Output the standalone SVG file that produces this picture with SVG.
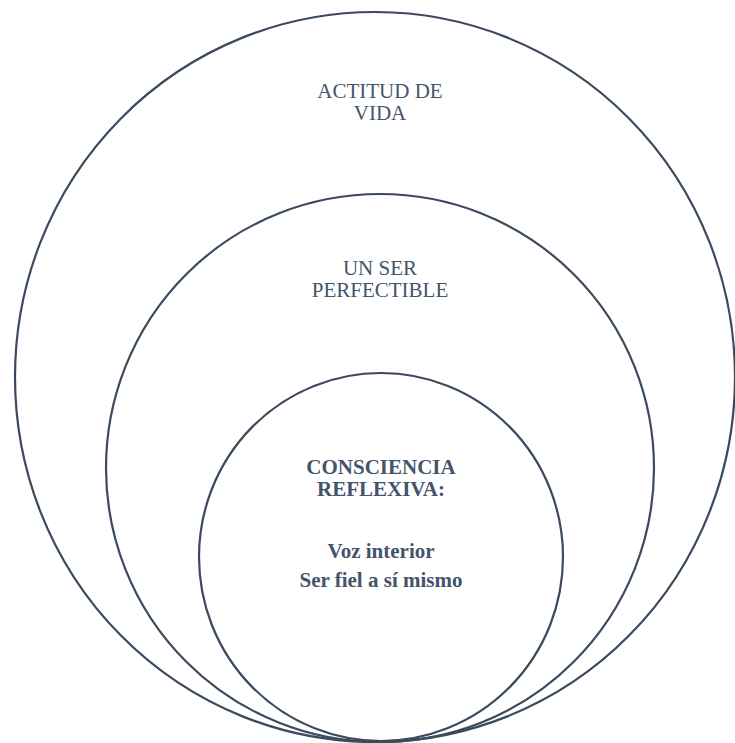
<svg xmlns="http://www.w3.org/2000/svg" width="735" height="743" viewBox="0 0 735 743">
<style>
.ring{fill:none;stroke:#3B4A5E;stroke-width:2.2}
.t{font-family:'Liberation Serif','DejaVu Serif',serif;font-size:21px;font-weight:normal;fill:#44546A;text-anchor:middle}
.b{font-weight:bold}
</style>
<rect width="735" height="743" fill="#FFFFFF"/>
<g id="outer">
<ellipse class="ring" cx="375" cy="377" rx="360" ry="365"/>
<text class="t" x="380" y="98">ACTITUD DE</text>
<text class="t" x="380" y="120">VIDA</text>
</g>
<g id="middle">
<circle class="ring" cx="380" cy="468" r="274"/>
<text class="t" x="380" y="275">UN SER</text>
<text class="t" x="380" y="297">PERFECTIBLE</text>
</g>
<g id="inner">
<ellipse class="ring" cx="381" cy="557" rx="182" ry="184"/>
<text class="t b" x="381" y="474">CONSCIENCIA</text>
<text class="t b" x="381" y="496">REFLEXIVA:</text>
<text class="t b" x="381" y="558">Voz interior</text>
<text class="t b" x="381" y="587">Ser fiel a sí mismo</text>
</g>
<g id="connectors"></g>
</svg>
